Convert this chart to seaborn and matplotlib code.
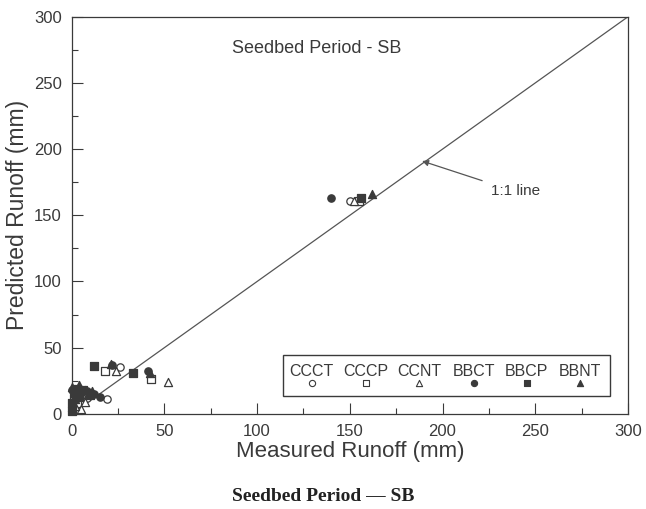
import matplotlib
matplotlib.use("Agg")
import matplotlib.pyplot as plt
import seaborn as sns
import pandas as pd
from matplotlib.patches import Rectangle
from matplotlib.ticker import MultipleLocator

# ---- data (measured, predicted runoff in mm) ----
series = ["CCCT", "CCCP", "CCNT", "BBCT", "BBCP", "BBNT"]
markers = ["o", "s", "^", "o", "s", "^"]
filled = [False, False, False, True, True, True]

ccct_x = [150, 26, 19, 2, 5, 8]
ccct_y = [161, 35, 11, 10, 14, 12]
cccp_x = [155, 18, 43, 1, 3, 6]
cccp_y = [161, 32, 26, 12, 8, 15]
ccnt_x = [152, 24, 52, 5, 2, 7]
ccnt_y = [161, 32, 24, 4, 6, 9]
bbct_x = [140, 22, 41, 8, 12, 1, 0, 5, 15]
bbct_y = [163, 37, 32, 17, 15, 14, 18, 16, 13]
bbcp_x = [156, 12, 33, 2, 6, 0, 4, 10, 0, 3]
bbcp_y = [163, 36, 31, 16, 18, 2, 13, 14, 8, 19]
bbnt_x = [162, 21, 42, 0, 4, 7, 9, 0, 2, 11]
bbnt_y = [166, 38, 31, 20, 22, 18, 15, 5, 11, 17]

xs = [ccct_x, cccp_x, ccnt_x, bbct_x, bbcp_x, bbnt_x]
ys = [ccct_y, cccp_y, ccnt_y, bbct_y, bbcp_y, bbnt_y]

x_ticks = [0, 50, 100, 150, 200, 250, 300]
y_ticks = [0, 50, 100, 150, 200, 250, 300]

sns.set_theme(style="white")
plt.rcParams["font.family"] = ["Liberation Sans", "DejaVu Sans"]

ink = "#3a3a3a"
fig = plt.figure(figsize=(6.46, 5.09), dpi=100)
ax = fig.add_axes([0.111, 0.187, 0.861, 0.780])

# 1:1 line
line_df = pd.DataFrame({"x": [0, 300], "y": [0, 300]})
sns.lineplot(data=line_df, x="x", y="y", ax=ax, color="#555555", lw=0.9)

for name, m, f, xv, yv in zip(series, markers, filled, xs, ys):
    df = pd.DataFrame({"x": xv, "y": yv})
    sns.scatterplot(data=df, x="x", y="y", ax=ax, marker=m,
                    s=28 if m != "^" else 34,
                    facecolor=ink if f else "white",
                    edgecolor=ink, linewidth=0.9, zorder=3, clip_on=False)

ax.set_xlim(0, 300)
ax.set_ylim(0, 300)
ax.set_xticks(x_ticks)
ax.set_yticks(y_ticks)
ax.xaxis.set_minor_locator(MultipleLocator(25))
ax.yaxis.set_minor_locator(MultipleLocator(25))
ax.tick_params(axis="both", which="major", direction="in", length=8,
               width=0.8, color=ink, labelsize=12, labelcolor=ink, pad=7)
ax.tick_params(axis="both", which="minor", direction="in", length=4,
               width=0.8, color=ink)
ax.tick_params(axis="both", which="both", bottom=True, left=True, top=False, right=False)
for sp in ax.spines.values():
    sp.set_color(ink)
    sp.set_linewidth(0.9)

ax.set_xlabel("Measured Runoff (mm)", fontsize=16, color=ink, labelpad=2)
ax.set_ylabel("Predicted Runoff (mm)", fontsize=16.5, color=ink, labelpad=4)

ax.text(132, 276, "Seedbed Period - SB", fontsize=13, color=ink,
        ha="center", va="center")

ax.annotate("1:1 line", xy=(189, 191), xytext=(226, 168), fontsize=11,
            color=ink, ha="left", va="center",
            arrowprops=dict(arrowstyle="-|>", color="#555555", lw=0.9,
                            shrinkA=4, shrinkB=0, mutation_scale=9))

# legend box (labels above markers)
ax.add_patch(Rectangle((114, 13.6), 176.3, 31, fill=False, edgecolor=ink,
                       lw=1.0, zorder=4))
leg_x = [129.5, 158.7, 187.3, 217, 245.5, 274]
for name, m, f, lx in zip(series, markers, filled, leg_x):
    ax.text(lx, 32, name, fontsize=11.5, color=ink, ha="center", va="center")
    ax.scatter([lx], [23], marker=m, s=20,
               facecolor=ink if f else "white", edgecolor=ink, linewidth=0.8,
               zorder=5)

fig.text(0.5, 0.024, "Seedbed Period \u2014 SB", fontsize=14, fontweight="bold",
         family=["Liberation Serif", "DejaVu Serif"], color="#222222",
         ha="center", va="center")

fig.savefig("out.png", dpi=100)
